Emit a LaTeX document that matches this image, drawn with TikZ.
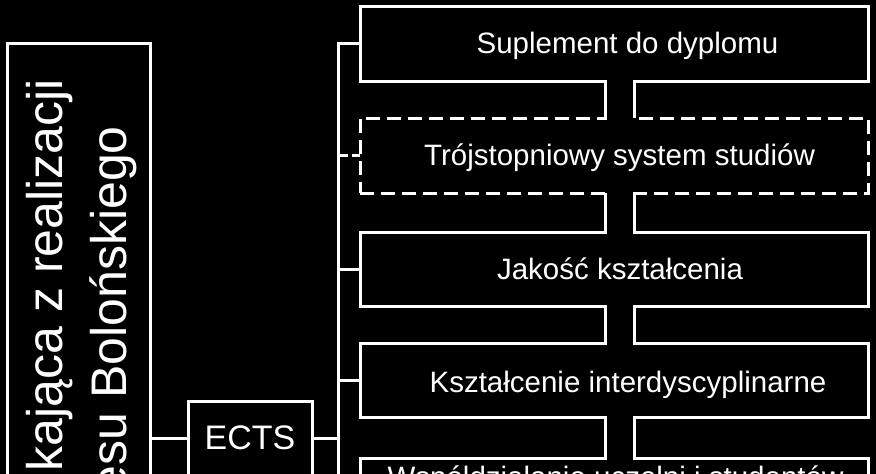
\documentclass[tikz,border=0pt]{standalone}
\usepackage{fontspec}
\setmainfont{Liberation Sans}
\usetikzlibrary{calc}
\begin{document}
\begin{tikzpicture}[x=1pt,y=-1pt,
  wline/.style={draw=white,line width=3pt},
  frame/.style={wline,rectangle,anchor=north west,inner sep=0pt,outer sep=0pt},
  boxn/.style={frame,minimum width=508pt,minimum height=75pt},
  dashbox/.style={dash pattern=on 14pt off 7pt},
  lbl/.style={text=white,font=\fontsize{29.5}{35}\selectfont,inner sep=0pt,anchor=base},
  vlbl/.style={text=white,font=\fontsize{50}{60}\selectfont,inner sep=0pt,rotate=90,anchor=base east}]
\fill[black] (0,0) rectangle (876,474);
\useasboundingbox (0,0) rectangle (876,474);
\clip (0,0) rectangle (876,474);

% right column boxes
\node[boxn] (b1) at (360,6) {};
\node[boxn,dashbox] (b2) at (360,118) {};
\node[boxn,minimum height=74pt] (b3) at (360,232) {};
\node[boxn,minimum height=74pt] (b4) at (360,343) {};
\node[boxn] (b5) at (360,458) {};

% pipes between boxes
\coordinate (pl) at (605,0);
\coordinate (pr) at (634,0);
\foreach \a/\b in {b1/b2,b2/b3,b3/b4,b4/b5}{
  \fill[black] ($(\a.south -| pl)+(1.5,-2.5)$) rectangle ($(\b.north -| pr)+(-1.5,2.5)$);
  \draw[wline] (\a.south -| pl) -- (\b.north -| pl) (\a.south -| pr) -- (\b.north -| pr);
}

% labels of right boxes
\node[lbl] (t1) at (627.5,53) {Suplement do dyplomu};
\node[lbl] (t2) at (619.5,165) {Trójstopniowy system studiów};
\node[lbl] (t3) at (620,279) {Jakość kształcenia};
\node[lbl] (t4) at (628,392) {Kształcenie interdyscyplinarne};
\node[lbl] (t5) at (615.5,487) {Współdziałanie uczelni i studentów};

% left big box
\node[frame,minimum width=143pt,minimum height=790pt] (zm) at (7,43) {};
\node[vlbl] (l1) at (62,79) {kająca z realizacji};
\node[vlbl] (l2) at (126,126) {esu Bolońskiego};

% ECTS box
\node[frame,minimum width=124pt,minimum height=74pt,text=white,font=\fontsize{34}{40}\selectfont] (ects) at (188,401) {ECTS};

% trunk and branches
\coordinate (tr) at (338,0);
\coordinate (trEnd) at (338,480);
\draw[wline,line join=miter] (b1.west) -- (b1.west -| tr) -- (trEnd);
\draw[wline,dash pattern=on 10pt off 4pt] (b2.west -| tr) -- (b2.west);
\draw[wline] (b3.west -| tr) -- (b3.west);
\draw[wline] (b4.west -| tr) -- (b4.west);
\draw[wline] (zm.east) -- (ects.west);
\draw[wline] (ects.east) -- (ects.east -| tr);
\end{tikzpicture}
\end{document}
